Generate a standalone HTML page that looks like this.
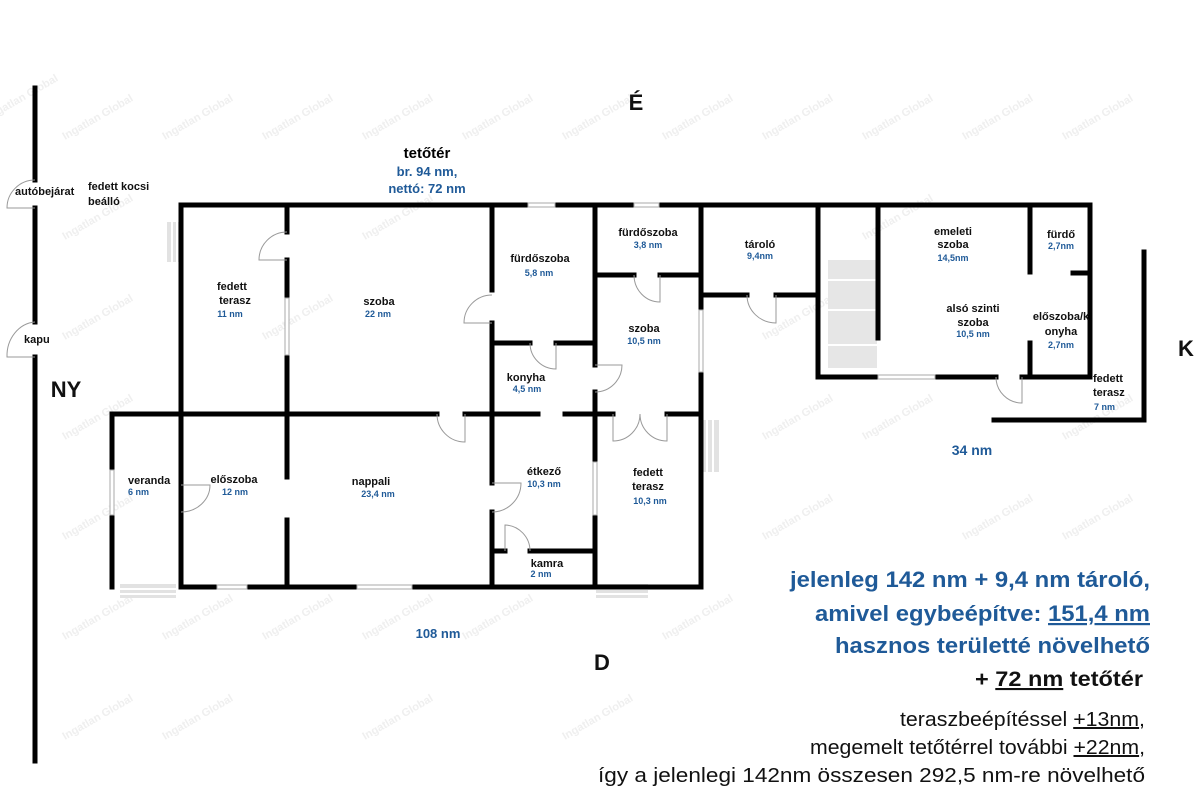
<!DOCTYPE html>
<html><head><meta charset="utf-8"><style>
html,body{margin:0;padding:0;background:#fff;}
svg{display:block;font-family:"Liberation Sans",sans-serif;}
.r{font-weight:bold;font-size:11px;fill:#111;text-anchor:middle}
.a{font-weight:bold;font-size:9px;fill:#1f5a98;text-anchor:middle}
.w{stroke:#000;stroke-width:5;fill:none;stroke-linecap:square}
.d{stroke:#999;stroke-width:1;fill:none}
.wm{font-size:11px;font-weight:bold;fill:#efefef}
</style></head><body>
<svg width="1200" height="800" viewBox="0 0 1200 800">
<g class="wm">
<text transform="translate(-10,120) rotate(-30)" class="wm">Ingatlan Global</text>
<text transform="translate(65,140) rotate(-30)" class="wm">Ingatlan Global</text>
<text transform="translate(165,140) rotate(-30)" class="wm">Ingatlan Global</text>
<text transform="translate(265,140) rotate(-30)" class="wm">Ingatlan Global</text>
<text transform="translate(365,140) rotate(-30)" class="wm">Ingatlan Global</text>
<text transform="translate(465,140) rotate(-30)" class="wm">Ingatlan Global</text>
<text transform="translate(565,140) rotate(-30)" class="wm">Ingatlan Global</text>
<text transform="translate(665,140) rotate(-30)" class="wm">Ingatlan Global</text>
<text transform="translate(765,140) rotate(-30)" class="wm">Ingatlan Global</text>
<text transform="translate(865,140) rotate(-30)" class="wm">Ingatlan Global</text>
<text transform="translate(965,140) rotate(-30)" class="wm">Ingatlan Global</text>
<text transform="translate(1065,140) rotate(-30)" class="wm">Ingatlan Global</text>
<text transform="translate(65,240) rotate(-30)" class="wm">Ingatlan Global</text>
<text transform="translate(365,240) rotate(-30)" class="wm">Ingatlan Global</text>
<text transform="translate(865,240) rotate(-30)" class="wm">Ingatlan Global</text>
<text transform="translate(65,340) rotate(-30)" class="wm">Ingatlan Global</text>
<text transform="translate(265,340) rotate(-30)" class="wm">Ingatlan Global</text>
<text transform="translate(765,340) rotate(-30)" class="wm">Ingatlan Global</text>
<text transform="translate(65,440) rotate(-30)" class="wm">Ingatlan Global</text>
<text transform="translate(765,440) rotate(-30)" class="wm">Ingatlan Global</text>
<text transform="translate(865,440) rotate(-30)" class="wm">Ingatlan Global</text>
<text transform="translate(1065,440) rotate(-30)" class="wm">Ingatlan Global</text>
<text transform="translate(65,540) rotate(-30)" class="wm">Ingatlan Global</text>
<text transform="translate(765,540) rotate(-30)" class="wm">Ingatlan Global</text>
<text transform="translate(965,540) rotate(-30)" class="wm">Ingatlan Global</text>
<text transform="translate(1065,540) rotate(-30)" class="wm">Ingatlan Global</text>
<text transform="translate(65,640) rotate(-30)" class="wm">Ingatlan Global</text>
<text transform="translate(165,640) rotate(-30)" class="wm">Ingatlan Global</text>
<text transform="translate(265,640) rotate(-30)" class="wm">Ingatlan Global</text>
<text transform="translate(365,640) rotate(-30)" class="wm">Ingatlan Global</text>
<text transform="translate(465,640) rotate(-30)" class="wm">Ingatlan Global</text>
<text transform="translate(665,640) rotate(-30)" class="wm">Ingatlan Global</text>
<text transform="translate(65,740) rotate(-30)" class="wm">Ingatlan Global</text>
<text transform="translate(165,740) rotate(-30)" class="wm">Ingatlan Global</text>
<text transform="translate(365,740) rotate(-30)" class="wm">Ingatlan Global</text>
<text transform="translate(565,740) rotate(-30)" class="wm">Ingatlan Global</text>
</g>

<!-- steps -->
<g fill="#e2e2e2">
<rect x="167" y="222" width="14" height="40"/>
<rect x="120" y="584" width="56" height="14"/>
<rect x="596" y="584" width="52" height="14"/>
<rect x="701" y="420" width="18" height="52"/>
<rect x="828" y="260" width="49" height="108" fill="#e6e6e6"/>
</g>
<g stroke="#fff" stroke-width="2">
<line x1="172" y1="222" x2="172" y2="262"/><line x1="177" y1="222" x2="177" y2="262"/>
<line x1="120" y1="589" x2="176" y2="589"/><line x1="120" y1="594" x2="176" y2="594"/>
<line x1="596" y1="589" x2="648" y2="589"/><line x1="596" y1="594" x2="648" y2="594"/>
<line x1="707" y1="420" x2="707" y2="472"/><line x1="713" y1="420" x2="713" y2="472"/>
<line x1="828" y1="280" x2="877" y2="280"/><line x1="828" y1="310" x2="877" y2="310"/><line x1="828" y1="345" x2="877" y2="345"/>
</g>

<path class="w" d="M35,88 V180 M35,208 V322 M35,357 V761"/>

<path class="w" d="
M181,205 H528 M555,205 H634 M659,205 H1090 V377
M181,205 V587 H217 M247,587 H357 M412,587 H701
M287,205 V232 M287,260 V298 M287,355 V415
M112,414 H437 M465,414 H538 M565,414 H613 M667,414 H701
M112,414 V470 M112,515 V587
M287,414 V477 M287,520 V587
M181,414 V485 M181,512 V587
M492,205 V290 M492,323 V483 M492,512 V587
M492,343 H530 M556,343 H595
M595,205 V365 M595,392 V462 M595,515 V587
M492,551 H505 M530,551 H595
M595,275 H634 M660,275 H701
M701,205 V310 M701,372 V587
M701,295 H747 M776,295 H818
M818,205 V377 H878 M935,377 H996 M1022,377 H1090
M878,205 V338
M1030,205 V272 M1030,343 V377
M1073,273 H1090
M1144,252 V420 H994
"/>

<g fill="#fff" stroke="#aaa" stroke-width="1">
<rect x="528" y="203" width="27" height="4"/>
<rect x="634" y="203" width="25" height="4"/>
<rect x="217" y="585" width="30" height="4"/>
<rect x="357" y="585" width="55" height="4"/>
<rect x="878" y="375" width="57" height="4"/>
<rect x="285" y="298" width="4" height="57"/>
<rect x="110" y="470" width="4" height="45"/>
<rect x="593" y="462" width="4" height="53"/>
<rect x="699" y="310" width="4" height="62"/>
</g>

<g class="d">
<path d="M35,180 A28,28 0 0 0 7,208 L35,208"/>
<path d="M35,322 A30,34 0 0 0 7,357 L35,357"/>
<path d="M287,232 A28,28 0 0 0 259,260 L287,260"/>
<path d="M492,295 A28,28 0 0 0 464,323 L492,323"/>
<path d="M530,343 A26,26 0 0 0 556,369 L556,343"/>
<path d="M595,365 L622,365 A27,27 0 0 1 595,392"/>
<path d="M437,414 A28,28 0 0 0 465,442 L465,414"/>
<path d="M181,485 L210,485 A29,27 0 0 1 181,512"/>
<path d="M492,483 L521,483 A29,29 0 0 1 492,512"/>
<path d="M505,551 L505,525 A26,26 0 0 1 530,551"/>
<path d="M634,275 A26,27 0 0 0 660,302 L660,275"/>
<path d="M747,295 A29,28 0 0 0 776,323 L776,295"/>
<path d="M613,414 L613,441 A27,27 0 0 0 640,414 A27,27 0 0 0 667,441 L667,414"/>
<path d="M996,377 A26,26 0 0 0 1022,403 L1022,377"/>
</g>

<g font-weight="bold" font-size="22" fill="#111" text-anchor="middle">
<text x="636" y="110">É</text>
<text x="66" y="397">NY</text>
<text x="1186" y="356">K</text>
<text x="602" y="670">D</text>
</g>
<text x="427" y="158" font-weight="bold" font-size="15" text-anchor="middle">tetőtér</text>
<text x="427" y="176" font-weight="bold" font-size="13" fill="#1f5a98" text-anchor="middle">br. 94 nm,</text>
<text x="427" y="193" font-weight="bold" font-size="13" fill="#1f5a98" text-anchor="middle">nettó: 72 nm</text>
<g font-weight="bold" font-size="11" fill="#111">
<text x="15" y="195">autóbejárat</text>
<text x="88" y="190">fedett kocsi</text>
<text x="88" y="205">beálló</text>
<text x="24" y="343">kapu</text>
</g>

<text class="r" x="232" y="290">fedett</text><text class="r" x="235" y="304">terasz</text><text class="a" x="230" y="317">11 nm</text>
<text class="r" x="379" y="305">szoba</text><text class="a" x="378" y="317">22 nm</text>
<text class="r" x="540" y="262">fürdőszoba</text><text class="a" x="539" y="276">5,8 nm</text>
<text class="r" x="648" y="236">fürdőszoba</text><text class="a" x="648" y="248">3,8 nm</text>
<text class="r" x="760" y="248">tároló</text><text class="a" x="760" y="259">9,4nm</text>
<text class="r" x="953" y="235">emeleti</text><text class="r" x="953" y="248">szoba</text><text class="a" x="953" y="261">14,5nm</text>
<text class="r" x="1061" y="238">fürdő</text><text class="a" x="1061" y="249">2,7nm</text>
<text class="r" x="973" y="312">alsó szinti</text><text class="r" x="973" y="326">szoba</text><text class="a" x="973" y="337">10,5 nm</text>
<text class="r" x="1061" y="320">előszoba/k</text><text class="r" x="1061" y="335">onyha</text><text class="a" x="1061" y="348">2,7nm</text>
<text class="r" x="644" y="332">szoba</text><text class="a" x="644" y="344">10,5 nm</text>
<text class="r" x="526" y="381">konyha</text><text class="a" x="527" y="392">4,5 nm</text>
<text class="r" x="1093" y="382" style="text-anchor:start">fedett</text><text class="r" x="1093" y="396" style="text-anchor:start">terasz</text><text class="a" x="1094" y="410" style="text-anchor:start">7 nm</text>
<text class="r" x="128" y="484" style="text-anchor:start">veranda</text><text class="a" x="128" y="495" style="text-anchor:start">6 nm</text>
<text class="r" x="234" y="483">előszoba</text><text class="a" x="235" y="495">12 nm</text>
<text class="r" x="371" y="485">nappali</text><text class="a" x="378" y="497">23,4 nm</text>
<text class="r" x="544" y="475">étkező</text><text class="a" x="544" y="487">10,3 nm</text>
<text class="r" x="648" y="476">fedett</text><text class="r" x="648" y="490">terasz</text><text class="a" x="650" y="504">10,3 nm</text>
<text class="r" x="547" y="567">kamra</text><text class="a" x="541" y="577">2 nm</text>
<text x="972" y="455" font-weight="bold" font-size="14" fill="#1f5a98" text-anchor="middle">34 nm</text>
<text x="438" y="638" font-weight="bold" font-size="13" fill="#1f5a98" text-anchor="middle">108 nm</text>

<g font-weight="bold" font-size="22" fill="#1f5a98">
<text x="790" y="587" textLength="360" lengthAdjust="spacingAndGlyphs">jelenleg 142 nm + 9,4 nm tároló,</text>
<text x="815" y="621" textLength="335" lengthAdjust="spacingAndGlyphs">amivel egybeépítve: <tspan text-decoration="underline">151,4 nm</tspan></text>
<text x="835" y="653" textLength="315" lengthAdjust="spacingAndGlyphs">hasznos területté növelhető</text>
</g>
<text x="975" y="686" font-weight="bold" font-size="21" fill="#111" textLength="168" lengthAdjust="spacingAndGlyphs">+ <tspan text-decoration="underline">72 nm</tspan> tetőtér</text>
<g font-size="20" fill="#111">
<text x="900" y="726" textLength="245" lengthAdjust="spacingAndGlyphs">teraszbeépítéssel <tspan text-decoration="underline">+13nm</tspan>,</text>
<text x="810" y="754" textLength="335" lengthAdjust="spacingAndGlyphs">megemelt tetőtérrel további <tspan text-decoration="underline">+22nm</tspan>,</text>
<text x="598" y="782" textLength="547" lengthAdjust="spacingAndGlyphs">így a jelenlegi 142nm összesen 292,5 nm-re növelhető</text>
</g>
</svg>
</body></html>
